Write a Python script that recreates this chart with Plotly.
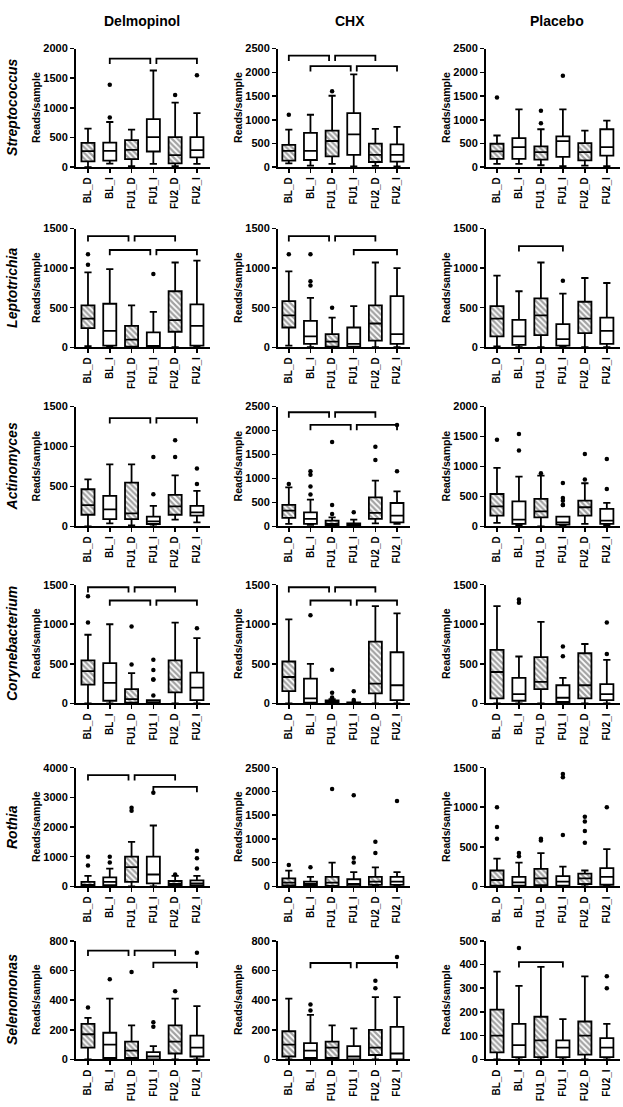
import plotly.graph_objects as go

W, H = 623, 1107
cats = ["BL_D", "BL_I", "FU1_D", "FU1_I", "FU2_D", "FU2_I"]
groups = ["Delmopinol", "CHX", "Placebo"]
taxa = ["Streptococcus", "Leptotrichia", "Actinomyces", "Corynebacterium", "Rothia", "Selenomonas"]

# y-axis maximum and tick step per panel [row][col]
ymax = [[2000, 2500, 2500], [1500, 1500, 1500], [1500, 2500, 2000],
        [1500, 1500, 1500], [4000, 2500, 1500], [800, 800, 500]]
ystep = [[500, 500, 500], [500, 500, 500], [500, 500, 500],
         [500, 500, 500], [1000, 500, 500], [200, 200, 100]]

# each box: [lower whisker, Q1, median, Q3, upper whisker]
strep_delm = [[0, 100, 270, 410, 650], [60, 110, 276, 414, 762], [17, 138, 293, 458, 635],
              [55, 265, 508, 812, 1630], [17, 66, 204, 508, 1088], [55, 166, 287, 508, 911]]
strep_delm_out = [[], [1390, 840], [], [], [1215], [1550]]
strep_delm_br = [(1, 3, 1830), (3, 5, 1830)]

strep_chx = [[83, 138, 345, 470, 794], [35, 152, 345, 725, 1105], [69, 228, 552, 773, 1505],
             [20, 262, 690, 1140, 1954], [28, 110, 262, 497, 808], [20, 117, 262, 483, 850]]
strep_chx_out = [[1105], [], [1600], [], [], []]
strep_chx_br = [(0, 2, 2350), (2, 4, 2350), (1, 3, 2130), (3, 5, 2130)]

strep_plac = [[70, 174, 334, 494, 668], [70, 174, 425, 613, 1219], [42, 160, 320, 439, 800],
              [21, 216, 550, 648, 1219], [35, 146, 320, 508, 773], [21, 244, 425, 800, 982]]
strep_plac_out = [[1469], [], [1191, 926], [1929], [], []]
strep_plac_br = []

lepto_delm = [[15, 242, 362, 529, 946], [0, 21, 208, 550, 988], [0, 8, 96, 271, 529],
              [0, 5, 15, 188, 446], [0, 196, 342, 708, 1071], [0, 21, 271, 542, 1096]]
lepto_delm_out = [[1175, 1042], [], [], [925], [], []]
lepto_delm_br = [(0, 2, 1404), (2, 4, 1404), (1, 3, 1229), (3, 5, 1229)]

lepto_chx = [[21, 250, 404, 583, 958], [0, 42, 138, 333, 625], [0, 8, 71, 167, 375],
             [0, 8, 42, 250, 521], [0, 83, 300, 529, 1071], [0, 42, 167, 646, 1000]]
lepto_chx_out = [[1175], [1175, 833, 779], [500], [], [], []]
lepto_chx_br = [(0, 2, 1404), (2, 4, 1404), (3, 5, 1229)]

lepto_plac = [[12, 138, 362, 521, 904], [0, 29, 138, 346, 708], [0, 154, 404, 617, 1071],
              [0, 21, 104, 292, 679], [0, 179, 362, 575, 875], [0, 42, 208, 375, 812]]
lepto_plac_out = [[], [], [], [842], [], []]
lepto_plac_br = [(1, 3, 1279)]

actino_delm = [[0, 145, 265, 464, 588], [37, 91, 211, 381, 775], [12, 91, 162, 547, 775],
               [0, 29, 62, 120, 257], [83, 145, 249, 394, 638], [50, 133, 174, 257, 443]]
actino_delm_out = [[], [], [], [870, 402], [1077, 870], [725, 530]]
actino_delm_br = [(1, 3, 1355), (3, 5, 1355)]

actino_chx = [[49, 174, 327, 446, 815], [28, 49, 153, 292, 557], [0, 21, 49, 118, 188],
              [0, 14, 35, 63, 139], [63, 153, 279, 606, 954], [49, 84, 223, 487, 731]]
actino_chx_out = [[884], [1149, 1079, 829, 662], [1762, 446, 258], [292], [1664, 1386], [2117, 1149]]
actino_chx_br = [(0, 2, 2382), (2, 4, 2382), (1, 3, 2117), (3, 5, 2117)]

actino_plac = [[56, 178, 334, 540, 975], [11, 39, 111, 418, 830], [0, 150, 251, 457, 847],
               [0, 28, 67, 162, 162], [39, 178, 318, 429, 719], [22, 39, 95, 290, 390]]
actino_plac_out = [[1448], [1543, 1265], [886], [724, 474, 429, 357, 357], [1209, 780], [1125, 624]]
actino_plac_br = []

coryne_delm = [[0, 238, 408, 542, 867], [0, 33, 258, 508, 1000], [0, 8, 54, 179, 383],
               [0, 4, 12, 42, 42], [0, 138, 300, 542, 1021], [0, 42, 200, 388, 825]]
coryne_delm_out = [[1354, 1021], [], [971, 492], [550, 420, 300, 300, 100], [], [950]]
coryne_delm_br = [(0, 2, 1467), (2, 4, 1467), (1, 3, 1300), (3, 5, 1300)]

coryne_chx = [[0, 154, 333, 529, 1062], [0, 8, 62, 312, 500], [0, 8, 17, 38, 54],
              [0, 0, 4, 12, 12], [0, 125, 250, 779, 1229], [0, 42, 229, 646, 1138]]
coryne_chx_out = [[], [1112], [425, 133, 75], [154, 42, 20], [], []]
coryne_chx_br = [(0, 2, 1467), (2, 4, 1467), (1, 3, 1300), (3, 5, 1300)]

coryne_plac = [[0, 62, 396, 675, 1229], [0, 33, 117, 321, 592], [0, 179, 271, 583, 1029],
               [0, 17, 71, 229, 321], [0, 62, 229, 633, 750], [0, 42, 117, 242, 550]]
coryne_plac_out = [[], [1312, 1271], [], [717, 596], [], [1021, 625]]
coryne_plac_br = []

rothia_delm = [[0, 10, 50, 150, 350], [0, 40, 150, 300, 600], [0, 150, 650, 1000, 1500],
               [0, 100, 400, 1000, 2050], [0, 20, 80, 180, 350], [0, 30, 100, 200, 350]]
rothia_delm_out = [[1000, 700], [1000, 800], [2650, 2550], [3150], [400], [1200, 950, 600]]
rothia_delm_br = [(0, 2, 3750), (2, 4, 3750), (3, 5, 3350)]

rothia_chx = [[0, 20, 80, 170, 330], [0, 10, 50, 100, 200], [0, 10, 80, 200, 500],
              [0, 5, 50, 150, 300], [0, 30, 100, 200, 400], [0, 30, 100, 200, 300]]
rothia_chx_out = [[450], [400], [2050], [1920, 600, 500], [940, 700], [1800]]
rothia_chx_br = []

rothia_plac = [[0, 10, 80, 200, 350], [0, 10, 50, 120, 300], [0, 15, 100, 220, 420],
               [0, 10, 60, 130, 250], [0, 30, 100, 160, 200], [0, 20, 120, 230, 470]]
rothia_plac_out = [[1000, 750, 600], [420, 380], [600, 580], [1420, 1380, 650], [880, 820, 700, 550], [1000]]
rothia_plac_br = []

selen_delm = [[0, 80, 170, 240, 280], [0, 10, 100, 180, 410], [0, 10, 60, 120, 230],
              [0, 0, 20, 50, 90], [0, 40, 120, 230, 410], [0, 20, 80, 160, 360]]
selen_delm_out = [[350], [540], [590], [250, 220], [460], [720]]
selen_delm_br = [(0, 2, 733), (2, 4, 733), (3, 5, 653)]

selen_chx = [[0, 20, 100, 190, 410], [0, 10, 60, 110, 300], [0, 10, 80, 120, 230],
             [0, 0, 20, 90, 210], [0, 30, 80, 200, 420], [0, 0, 40, 220, 420]]
selen_chx_out = [[], [370, 330], [], [], [530, 480], [690]]
selen_chx_br = [(1, 3, 650), (3, 5, 650)]

selen_plac = [[0, 30, 100, 210, 370], [0, 10, 60, 150, 310], [0, 10, 80, 180, 390],
              [0, 10, 50, 80, 170], [0, 20, 100, 160, 350], [0, 10, 50, 90, 150]]
selen_plac_out = [[], [470], [], [], [], [350, 300]]
selen_plac_br = [(1, 3, 410)]

boxes = [[strep_delm, strep_chx, strep_plac], [lepto_delm, lepto_chx, lepto_plac],
         [actino_delm, actino_chx, actino_plac], [coryne_delm, coryne_chx, coryne_plac],
         [rothia_delm, rothia_chx, rothia_plac], [selen_delm, selen_chx, selen_plac]]
outliers = [[strep_delm_out, strep_chx_out, strep_plac_out], [lepto_delm_out, lepto_chx_out, lepto_plac_out],
            [actino_delm_out, actino_chx_out, actino_plac_out], [coryne_delm_out, coryne_chx_out, coryne_plac_out],
            [rothia_delm_out, rothia_chx_out, rothia_plac_out], [selen_delm_out, selen_chx_out, selen_plac_out]]
brackets = [[strep_delm_br, strep_chx_br, strep_plac_br], [lepto_delm_br, lepto_chx_br, lepto_plac_br],
            [actino_delm_br, actino_chx_br, actino_plac_br], [coryne_delm_br, coryne_chx_br, coryne_plac_br],
            [rothia_delm_br, rothia_chx_br, rothia_plac_br], [selen_delm_br, selen_chx_br, selen_plac_br]]

# layout geometry (pixels)
col_x = [(76, 210), (278, 410), (486, 620)]
col_xr = [[-0.55, 5.6], [-0.5, 5.6], [-0.5, 5.6]]
col_title_x = [142, 350, 557]
row_y = [(43, 163), (225, 345), (405, 526), (585, 705), (770, 890), (945, 1065)]

FONT = "Arial, Liberation Sans, sans-serif"
HATCH_BG = "#a2a2a2"
HATCH_FG = "#1e1e1e"

fig = go.Figure()
layout = dict(width=W, height=H, margin=dict(l=0, r=0, t=0, b=0),
              paper_bgcolor="white", plot_bgcolor="white", showlegend=False,
              barmode="overlay", font=dict(family=FONT, color="black"))
shapes = []
annotations = []

for r in range(6):
    for c in range(3):
        k = r * 3 + c + 1
        xa = "x" if k == 1 else f"x{k}"
        ya = "y" if k == 1 else f"y{k}"
        data = boxes[r][c]
        lf = [b[0] for b in data]
        q1 = [b[1] for b in data]
        md = [b[2] for b in data]
        q3 = [b[3] for b in data]
        uf = [b[4] for b in data]
        pos = list(range(len(cats)))
        hatched = [cat.endswith("_D") for cat in cats]

        fig.add_trace(go.Bar(
            x=pos, y=[b - a for a, b in zip(q1, q3)], base=q1, width=0.6,
            xaxis=xa, yaxis=ya, hoverinfo="skip",
            marker=dict(color=[HATCH_BG if h else "white" for h in hatched],
                        line=dict(width=0),
                        pattern=dict(shape=["\\" if h else "" for h in hatched],
                                     fgcolor=HATCH_FG,
                                     bgcolor=[HATCH_BG if h else "white" for h in hatched],
                                     size=4, solidity=0.55, fillmode="replace"))))
        fig.add_trace(go.Box(
            x=pos, q1=q1, median=md, q3=q3, lowerfence=lf, upperfence=uf,
            width=0.6, whiskerwidth=0.55, fillcolor="rgba(0,0,0,0)",
            line=dict(color="black", width=1.8), boxpoints=False,
            xaxis=xa, yaxis=ya, hoverinfo="skip"))
        ox, oy = [], []
        for i, vals in enumerate(outliers[r][c]):
            for v in vals:
                ox.append(i)
                oy.append(v)
        if ox:
            fig.add_trace(go.Scatter(x=ox, y=oy, mode="markers", xaxis=xa, yaxis=ya,
                                     marker=dict(color="black", size=4.5), hoverinfo="skip",
                                     cliponaxis=False))

        x0, x1 = col_x[c]
        yt, yb = row_y[r]
        layout["xaxis" if k == 1 else f"xaxis{k}"] = dict(
            domain=[x0 / W, x1 / W], range=col_xr[c], anchor=ya,
            tickvals=pos, ticktext=cats, tickangle=-90,
            ticks="outside", ticklen=4, tickwidth=1.5, tickcolor="black",
            showline=True, linewidth=2, linecolor="black", showgrid=False, zeroline=False,
            tickfont=dict(size=10, family=FONT, weight="bold"), fixedrange=True)
        layout["yaxis" if k == 1 else f"yaxis{k}"] = dict(
            domain=[(H - yb) / H, (H - yt) / H], range=[0, ymax[r][c]], anchor=xa,
            dtick=ystep[r][c], tick0=0,
            ticks="outside", ticklen=4, tickwidth=1.5, tickcolor="black",
            showline=True, linewidth=2, linecolor="black", showgrid=False, zeroline=False,
            tickfont=dict(size=11, family=FONT, weight="bold"), fixedrange=True)

        # significance brackets
        brs = brackets[r][c]
        drop = 0.045 * ymax[r][c]
        for (a, b, h) in brs:
            aa, bb = float(a), float(b)
            for (a2, b2, h2) in brs:
                if h2 == h and (a2, b2) != (a, b):
                    if b2 == a:
                        aa += 0.14
                    if a2 == b:
                        bb -= 0.14
            shapes.append(dict(type="path", xref=xa, yref=ya,
                               path=f"M {aa},{h - drop} L {aa},{h} L {bb},{h} L {bb},{h - drop}",
                               line=dict(color="black", width=1.8)))

        # y-axis title
        annotations.append(dict(text="<b>Reads/sample</b>", xref="paper", yref="paper",
                                x=(x0 - 40) / W, y=(H - (yt + yb) / 2) / H, textangle=-90,
                                showarrow=False, font=dict(size=10.5, family=FONT),
                                xanchor="center", yanchor="middle"))

    annotations.append(dict(text=f"<b><i>{taxa[r]}</i></b>", xref="paper", yref="paper",
                            x=12 / W, y=(H - (row_y[r][0] + row_y[r][1]) / 2) / H, textangle=-90,
                            showarrow=False, font=dict(size=14, family=FONT),
                            xanchor="center", yanchor="middle"))

for c in range(3):
    annotations.append(dict(text=f"<b>{groups[c]}</b>", xref="paper", yref="paper",
                            x=col_title_x[c] / W, y=(H - 15) / H, showarrow=False,
                            font=dict(size=14, family=FONT), xanchor="center", yanchor="middle"))

layout["shapes"] = shapes
layout["annotations"] = annotations
fig.update_layout(**layout)
fig.write_html("out.html", config={"displayModeBar": False, "staticPlot": True},
               post_script="document.body.style.margin='0px';document.body.style.overflow='hidden';")
